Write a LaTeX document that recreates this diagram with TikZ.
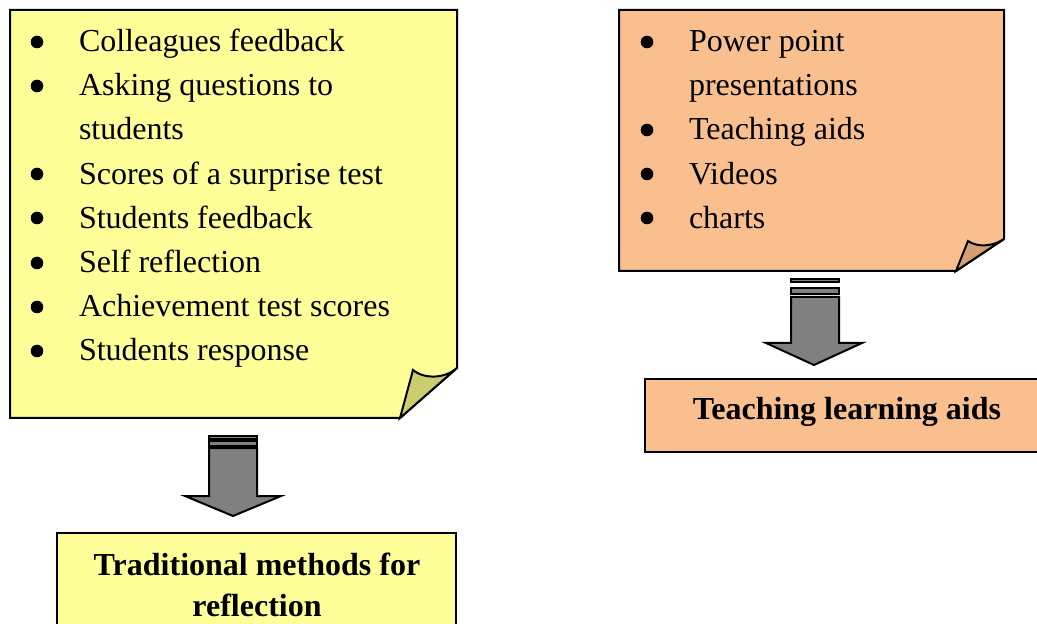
\documentclass[tikz,border=0pt]{standalone}
\usepackage{fontspec}
\setmainfont{Liberation Serif}
\usetikzlibrary{positioning}

\definecolor{notaam}{HTML}{FFFF99}
\definecolor{pliegueam}{HTML}{CCCC70}
\definecolor{notana}{HTML}{F9BF8F}
\definecolor{plieguena}{HTML}{D2A073}
\definecolor{flechagris}{HTML}{808080}

\begin{document}
\begin{tikzpicture}[x=0.5pt, y=-0.5pt, line width=1pt,
  linea/.style={anchor=base west, inner sep=0pt, font=\fontsize{16}{22}\selectfont},
  bala/.style={circle, fill=black, inner sep=0pt, minimum size=6.3pt},
  titulo/.style={anchor=base, inner sep=0pt, font=\fontsize{16}{22}\selectfont\bfseries},
  flecha/.style={draw, fill=flechagris}]

\useasboundingbox (0,0) rectangle (1037,624);
\clip (0,0) rectangle (1037,624);

% Nota amarilla
\draw[fill=notaam] (10,10) -- (457,10) -- (457,368) -- (400,418) -- (10,418) -- cycle;
\draw[fill=pliegueam] (400,418) -- (413,370) .. controls (425,380) and (446,378) .. (457,368) -- cycle;

% Nota naranja
\draw[fill=notana] (619,10) -- (1004,10) -- (1004,239) -- (956,271) -- (619,271) -- cycle;
\draw[fill=plieguena] (956,271) -- (968,241) .. controls (978,248) and (994,246) .. (1004,239) -- cycle;

% Textos de la nota amarilla
\foreach \y/\t [count=\i] in {52/Colleagues feedback, 96/Asking questions to, 140/students,
    185/Scores of a surprise test, 229/Students feedback, 273/Self reflection,
    317/Achievement test scores, 361/Students response}
  \node[linea] (ta\i) at (78,\y) {\t};
\foreach \y [count=\i] in {42,86,174,218,263,307,351}
  \node[bala] (pa\i) at (37,\y) {};

% Textos de la nota naranja
\foreach \y/\t [count=\i] in {52/Power point, 96/presentations, 140/Teaching aids,
    185/Videos, 229/charts}
  \node[linea] (tb\i) at (688,\y) {\t};
\foreach \y [count=\i] in {42,130,174,218}
  \node[bala] (pb\i) at (647,\y) {};

% Flechas gruesas
\draw[flecha] (209,436) rectangle (257,439);
\draw[flecha] (209,441) rectangle (257,446);
\draw[flecha] (209,448) -- (257,448) -- (257,496) -- (281,496) -- (233,516)
  -- (185,496) -- (209,496) -- cycle;

\draw[flecha] (791,279) rectangle (839,282);
\draw[flecha] (791,288) rectangle (839,294);
\draw[flecha] (791,297) -- (839,297) -- (839,343) -- (862,343) -- (814,365)
  -- (766,343) -- (791,343) -- cycle;

% Cajas de resultado
\draw[fill=notaam] (57,533) rectangle (456,650);
\node[titulo] (trad1) at (257,575) {Traditional methods for};
\node[titulo] (trad2) at (257,616) {reflection};

\draw[fill=notana] (645,379) rectangle (1045,452);
\node[titulo] (ayudas) at (847,420) {Teaching learning aids};

\end{tikzpicture}
\end{document}
